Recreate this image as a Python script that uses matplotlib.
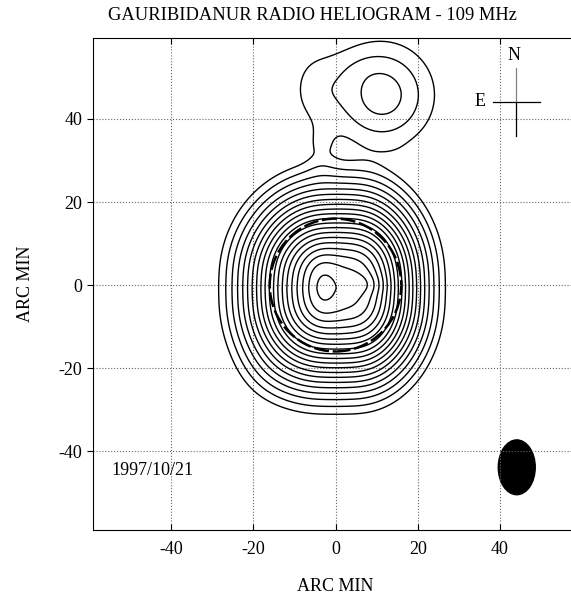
import numpy as np
import matplotlib
matplotlib.use("Agg")
import matplotlib.pyplot as plt
from matplotlib.patches import Circle, Ellipse

# brightness components (arcmin)
# main body, west peak, east lobe, SW bulge, north source, north lip,
# north pedestal, neck, north-east halo
src_x = [1.0, -3.5, 7.5, -18.0, 11.3, 12.0, 3.0, -3.5, -5.0]
src_y = [-0.8, -0.3, 0.3, -23.0, 45.8, 32.0, 53.0, 33.0, 47.0]
src_hx = [3.5, 0, 0, 0, 0, 0, 0, 0, 0]             # half size of flat top
src_hy = [2.0, 0, 0, 0, 0, 0, 0, 0, 0]
src_amp = [22.6, 1.0, 0.6, 0.6, 4.08, 0.2, 0.3, 1.0, 1.3]
src_sxl = [19.7, 4.0, 4.5, 10.0, 13.2, 9.0, 8.0, 4.0, 6.0]   # width to the east
src_sxr = [16.9, 4.0, 4.5, 10.0, 13.2, 9.0, 8.0, 4.0, 6.0]   # width to the west
src_sy = [21.5, 8.0, 2.4, 10.0, 13.2, 2.5, 5.0, 6.0, 9.0]
src_off = [3.0, 0, 0, 0, 0.6, 0, 0, 0, 0]          # negative bowl
soft_w = 0.2
edge_w = 2.5

levels = list(range(1, 21))
ticks = [-40, -20, 0, 20, 40]
disk_radius = 16.0
beam_xy, beam_w, beam_h = (44.1, -43.9), 9.0, 13.2
date_text = "1997/10/21"

x = np.linspace(-59, 59, 600)
y = np.linspace(-59, 59.5, 600)
X, Y = np.meshgrid(x, y)
Z = np.zeros_like(X)
for i in range(len(src_x)):
    sx = np.where(X < src_x[i], src_sxl[i], src_sxr[i])
    dx = np.abs(X - src_x[i])
    dy = np.abs(Y - src_y[i])
    if src_hx[i] > 0:
        dx = edge_w * np.logaddexp(0, (dx - src_hx[i]) / edge_w)
        dy = edge_w * np.logaddexp(0, (dy - src_hy[i]) / edge_w)
    g = src_amp[i] * np.exp(-((dx / sx) ** 2 + (dy / src_sy[i]) ** 2))
    if src_off[i] > 0:
        Z += soft_w * np.logaddexp(0, (g - src_off[i]) / soft_w)
    else:
        Z += g

plt.rcParams["font.family"] = "Liberation Serif"
plt.rcParams["axes.unicode_minus"] = False
fig = plt.figure(figsize=(5.71, 6.02), dpi=100)
ax = fig.add_axes([93 / 571, 1 - 530 / 602, (578 - 93) / 571, (530 - 38) / 602])

ax.contour(X, Y, Z, levels=levels, colors="black", linewidths=1.0)
ax.add_patch(Circle((0, 0), disk_radius, fill=False, color="black", lw=1.8,
                    linestyle=(0, (6, 1.5))))
ax.add_patch(Ellipse(beam_xy, beam_w, beam_h, color="black"))

# compass
cx, cy = 43.9, 44.1
ax.plot([cx - 5.6, cx + 5.8], [cy, cy], color="black", lw=0.9)
ax.plot([cx, cx], [cy, cy + 8.2], color="0.5", lw=0.9)
ax.plot([cx, cx], [cy - 8.2, cy], color="black", lw=0.9)
ax.text(cx - 0.5, cy + 11.2, "N", ha="center", va="center", fontsize=13)
ax.text(cx - 8.8, cy, "E", ha="center", va="center", fontsize=13)

ax.text(-54.5, -44.6, date_text, ha="left", va="center", fontsize=13)

ax.set_xlim(-59, 59)
ax.set_ylim(-59, 59.5)
ax.set_xticks(ticks)
ax.set_yticks(ticks)
ax.grid(True, linestyle=":", color="0.4", lw=0.8)
ax.tick_params(axis="x", direction="in", top=True, length=4, labelsize=13, pad=8)
ax.tick_params(axis="y", direction="out", length=4, labelsize=13)
ax.set_xlabel("ARC MIN", fontsize=13, labelpad=14)
ax.set_ylabel("ARC MIN", fontsize=13, labelpad=18)

fig.text(312 / 571, 1 - 15 / 602, "GAURIBIDANUR RADIO HELIOGRAM - 109 MHz",
         ha="center", va="center", fontsize=13.3)

fig.savefig("out.png", dpi=100)
